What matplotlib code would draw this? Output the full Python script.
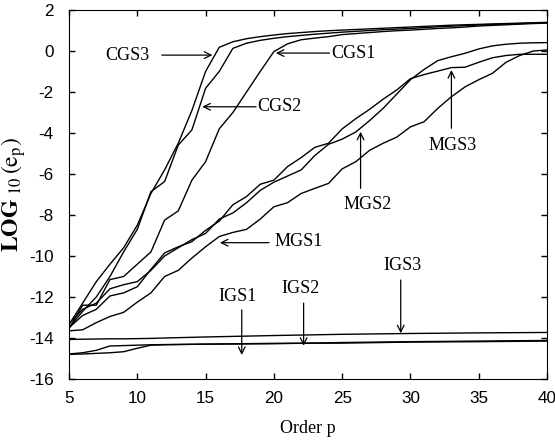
import matplotlib
matplotlib.use("Agg")
import matplotlib.pyplot as plt

# ordem p (pontos inteiros) para as curvas CGS / MGS
order_p = list(range(5, 41))

cgs1 = [-13.55, -12.4, -12.4, -11.15, -11.0, -10.4, -9.8, -8.25, -7.8, -6.3,
        -5.4, -3.8, -3.0, -2.0, -1.0, -0.03, 0.35, 0.55, 0.63, 0.7,
        0.8, 0.85, 0.9, 0.95, 0.99, 1.02, 1.06, 1.1, 1.13, 1.17,
        1.22, 1.25, 1.28, 1.31, 1.34, 1.36]
cgs2 = [-13.5, -12.7, -12.0, -11.0, -9.8, -8.7, -6.86, -6.37, -4.59, -3.85,
        -1.82, -1.0, 0.13, 0.38, 0.52, 0.62, 0.7, 0.76, 0.82, 0.87,
        0.92, 0.96, 1.0, 1.04, 1.07, 1.1, 1.14, 1.18, 1.21, 1.24,
        1.27, 1.3, 1.32, 1.34, 1.36, 1.38]
cgs3 = [-13.35, -12.3, -11.25, -10.4, -9.6, -8.5, -6.95, -5.8, -4.5, -2.9,
        -1.0, 0.18, 0.45, 0.6, 0.7, 0.78, 0.85, 0.9, 0.95, 0.99,
        1.02, 1.05, 1.08, 1.11, 1.14, 1.17, 1.2, 1.23, 1.26, 1.28,
        1.3, 1.32, 1.34, 1.36, 1.38, 1.4]

mgs1 = [-13.65, -13.6, -13.25, -12.95, -12.75, -12.25, -11.8, -11.0, -10.7, -10.1,
        -9.55, -9.05, -8.85, -8.7, -8.2, -7.6, -7.4, -6.95, -6.7, -6.46,
        -5.75, -5.4, -4.85, -4.5, -4.2, -3.7, -3.45, -2.8, -2.23, -1.75,
        -1.4, -1.09, -0.55, -0.22, 0.0, 0.05]
mgs2 = [-13.3, -12.6, -12.3, -11.6, -11.4, -11.25, -10.7, -10.0, -9.6, -9.2,
        -8.9, -8.2, -7.9, -7.4, -6.8, -6.4, -6.1, -5.8, -5.1, -4.55,
        -4.3, -3.95, -3.4, -2.8, -2.1, -1.4, -0.9, -0.47, -0.28, -0.11,
        0.1, 0.25, 0.33, 0.38, 0.4, 0.41]
mgs3 = [-13.5, -12.9, -12.6, -11.95, -11.8, -11.5, -10.65, -9.85, -9.55, -9.3,
        -8.75, -8.3, -7.5, -7.1, -6.5, -6.3, -5.64, -5.2, -4.7, -4.5,
        -3.8, -3.3, -2.85, -2.35, -1.9, -1.35, -1.15, -0.98, -0.81, -0.79,
        -0.55, -0.33, -0.22, -0.16, -0.16, -0.16]

# curvas IGS quase planas
order_igs = [5, 6, 7, 8, 9, 10, 11, 12, 15, 20, 25, 30, 35, 40]
igs1 = [-14.78, -14.72, -14.6, -14.39, -14.37, -14.35, -14.33, -14.32, -14.3, -14.28, -14.22, -14.18, -14.15, -14.12]
igs2 = [-14.8, -14.78, -14.75, -14.72, -14.67, -14.5, -14.35, -14.33, -14.3, -14.26, -14.25, -14.2, -14.18, -14.15]
igs3 = [-14.07, -14.06, -14.05, -14.04, -14.04, -14.03, -14.02, -14.0, -13.95, -13.88, -13.82, -13.78, -13.75, -13.73]

# rotulos: (texto, posicao do texto, ponta da seta, cauda da seta)
rotulos = [
    ("CGS3", (9.25, -0.2), (15.5, -0.2), (11.8, -0.2)),
    ("CGS2", (20.4, -2.72), (14.76, -2.72), (18.7, -2.72)),
    ("CGS1", (25.85, -0.1), (20.15, -0.1), (24.07, -0.1)),
    ("MGS1", (21.85, -9.3), (16.05, -9.35), (19.65, -9.35)),
    ("MGS2", (26.85, -7.5), (26.35, -3.94), (26.35, -6.7)),
    ("MGS3", (33.1, -4.6), (33.0, -0.93), (33.0, -3.77)),
    ("IGS1", (17.33, -11.98), (17.65, -14.83), (17.65, -12.63)),
    ("IGS2", (21.95, -11.58), (22.18, -14.38), (22.18, -12.3)),
    ("IGS3", (29.4, -10.44), (29.29, -13.77), (29.29, -11.17)),
]

plt.rcParams['axes.unicode_minus'] = False
plt.rcParams['mathtext.fontset'] = 'stix'

fig = plt.figure(figsize=(5.55, 4.41), dpi=100)
ax = fig.add_axes([0.1243, 0.1406, 0.8613, 0.8367])

for serie in [cgs1, cgs2, cgs3, mgs1, mgs2, mgs3]:
    ax.plot(order_p, serie, color='black', lw=1.0)
for serie in [igs1, igs2, igs3]:
    ax.plot(order_igs, serie, color='black', lw=1.0)

for texto, pos, ponta, cauda in rotulos:
    ax.text(pos[0], pos[1], texto, ha='center', va='center',
            family='Liberation Serif', fontsize=13)
    ax.annotate("", xy=ponta, xytext=cauda,
                arrowprops=dict(arrowstyle='->', color='black', lw=0.9,
                                mutation_scale=12, shrinkA=0, shrinkB=0))

ax.set_xlim(5, 40)
ax.set_ylim(-16, 2)
ax.set_xticks(range(5, 41, 5))
ax.set_yticks(range(-16, 3, 2))
ax.tick_params(direction='in', top=True, right=True, length=4, width=1,
               labelsize=12.3)
ax.tick_params(axis='y', pad=11)
ax.tick_params(axis='x', pad=9)
for lab in ax.get_xticklabels() + ax.get_yticklabels():
    lab.set_family('Liberation Sans')

ax.set_xlabel("Order p", family='Liberation Serif', fontsize=13)
ax.set_ylabel(r'$\mathbf{LOG}\;{}_{10}\,(\mathrm{e}_{\mathrm{p}})$', fontsize=17)
ax.yaxis.set_label_coords(-0.085, 0.5)
ax.xaxis.set_label_coords(0.5, -0.11)

plt.savefig("out.png", dpi=100)
plt.close()
